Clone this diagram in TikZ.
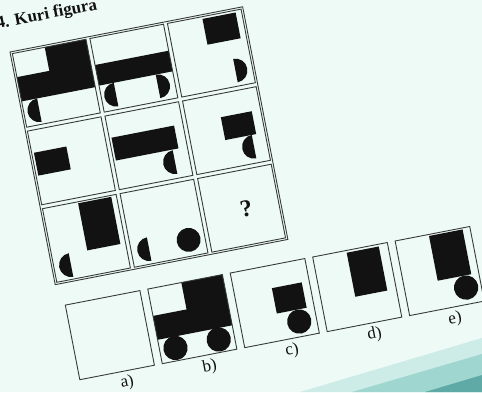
\documentclass[tikz,border=0pt]{standalone}
\usepackage{fontspec}
\setmainfont{Liberation Serif}
\usepackage{tikz}
\usetikzlibrary{positioning}

\definecolor{paper}{RGB}{238,250,246}
\definecolor{ink}{RGB}{18,18,18}
\definecolor{rule}{RGB}{55,58,58}
\definecolor{edgelight}{RGB}{205,236,231}
\definecolor{edgemid}{RGB}{160,214,208}
\definecolor{edgedark}{RGB}{95,170,166}

% half discs in cell units (flat side at x=#1, centre height #2)
\newcommand{\lhalf}[2]{\fill[ink] (#1,#2+0.16) arc[start angle=90,end angle=270,radius=0.16] -- cycle;}
\newcommand{\rhalf}[2]{\fill[ink] (#1,#2+0.16) arc[start angle=90,end angle=-90,radius=0.16] -- cycle;}

\begin{document}
\begin{tikzpicture}[
  x=1pt, y=1pt,
  frame/.style={draw=rule, line width=0.9pt},
  blk/.style={fill=ink},
  cellat/.style 2 args={shift={(79*#1+2,-79*#2-2)}, scale=75, yscale=-1},
  ansat/.style={shift={(6+84*#1,-259)}, scale=76, yscale=-1},
  title/.style={font=\fontsize{17}{20}\selectfont\bfseries, text=ink, inner sep=0pt, transform shape},
  quest/.style={font=\fontsize{24}{26}\selectfont\bfseries, text=ink, inner sep=0pt, transform shape},
  lbl/.style={font=\fontsize{17}{19}\selectfont, text=ink, inner sep=1pt, transform shape}]
  \useasboundingbox (0,-392) rectangle (482,0);
  \clip (0,-392) rectangle (482,0);
  \fill[paper] (0,-392) rectangle (482,0);
  % page edge, lower right
  \fill[edgelight] (300,-392) -- (482,-338) -- (482,-392) -- cycle;
  \fill[edgemid] (352,-392) -- (482,-354) -- (482,-392) -- cycle;
  \fill[edgedark] (425,-392) -- (482,-375) -- (482,-392) -- cycle;

  \begin{scope}[shift={(10,-52)}, rotate=11]
    \node[title, anchor=base west] (head) at (-8,25) {4. Kuri figura};
    % puzzle grid
    \draw[frame] (0,0) rectangle (237,-237);
    % row 1
    \begin{scope}[cellat={0}{0}]
      \fill[blk] (0.44,0) rectangle (1,0.34);
      \fill[blk] (0,0.32) rectangle (1,0.65);
      \lhalf{0.21}{0.81}
      \draw[frame] (0,0) rectangle (1,1);
    \end{scope}
    \begin{scope}[cellat={1}{0}]
      \fill[blk] (0,0.36) rectangle (1,0.64);
      \lhalf{0.2}{0.8}
      \rhalf{0.77}{0.8}
      \draw[frame] (0,0) rectangle (1,1);
    \end{scope}
    \begin{scope}[cellat={2}{0}]
      \fill[blk] (0.47,0.03) rectangle (0.92,0.38);
      \rhalf{0.77}{0.79}
      \draw[frame] (0,0) rectangle (1,1);
    \end{scope}
    % row 2
    \begin{scope}[cellat={0}{1}]
      \fill[blk] (0.03,0.3) rectangle (0.47,0.61);
      \draw[frame] (0,0) rectangle (1,1);
    \end{scope}
    \begin{scope}[cellat={1}{1}]
      \fill[blk] (0.03,0.3) rectangle (0.88,0.61);
      \lhalf{0.8}{0.78}
      \draw[frame] (0,0) rectangle (1,1);
    \end{scope}
    \begin{scope}[cellat={2}{1}]
      \fill[blk] (0.46,0.31) rectangle (0.88,0.62);
      \lhalf{0.82}{0.78}
      \draw[frame] (0,0) rectangle (1,1);
    \end{scope}
    % row 3
    \begin{scope}[cellat={0}{2}]
      \fill[blk] (0.48,0.02) rectangle (0.93,0.66);
      \lhalf{0.23}{0.81}
      \draw[frame] (0,0) rectangle (1,1);
    \end{scope}
    \begin{scope}[cellat={1}{2}]
      \lhalf{0.24}{0.8}
      \fill[blk] (0.78,0.78) circle[radius=0.16];
      \draw[frame] (0,0) rectangle (1,1);
    \end{scope}
    \begin{scope}[cellat={2}{2}]
      \draw[frame] (0,0) rectangle (1,1);
    \end{scope}
    \node[quest] (ask) at (202,-199) {?};

    % answers
    \begin{scope}[ansat=0]
      \draw[frame] (0,0) rectangle (1,1);
    \end{scope}
    \begin{scope}[ansat=1]
      \fill[blk] (0.45,0) rectangle (1,0.38);
      \fill[blk] (0,0.36) rectangle (1,0.68);
      \fill[blk] (0.21,0.83) circle[radius=0.16];
      \fill[blk] (0.79,0.83) circle[radius=0.16];
      \draw[frame] (0,0) rectangle (1,1);
    \end{scope}
    \begin{scope}[ansat=2]
      \fill[blk] (0.5,0.3) rectangle (0.9,0.64);
      \fill[blk] (0.77,0.8) circle[radius=0.16];
      \draw[frame] (0,0) rectangle (1,1);
    \end{scope}
    \begin{scope}[ansat=3]
      \fill[blk] (0.45,0.03) rectangle (0.88,0.62);
      \draw[frame] (0,0) rectangle (1,1);
    \end{scope}
    \begin{scope}[ansat=4]
      \fill[blk] (0.45,0.02) rectangle (0.9,0.62);
      \fill[blk] (0.8,0.78) circle[radius=0.16];
      \draw[frame] (0,0) rectangle (1,1);
    \end{scope}
    \node[lbl] (la) at (52,-347) {a)};
    \node[lbl] (lb) at (136,-347) {b)};
    \node[lbl] (lc) at (220,-347) {c)};
    \node[lbl] (ld) at (304,-347) {d)};
    \node[lbl] (le) at (386,-347) {e)};
  \end{scope}
\end{tikzpicture}
\end{document}
